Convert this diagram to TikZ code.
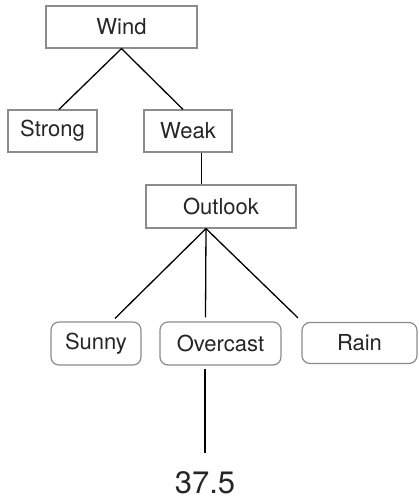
\documentclass[tikz,border=0pt]{standalone}
\usepackage{fontspec}
\setmainfont{TeX Gyre Heros}
\usepackage{tikz}
\usetikzlibrary{calc, positioning}

\begin{document}
\begin{tikzpicture}[x=1pt, y=-1pt]
    % Define styles
    \tikzstyle{attr_box}=[draw=black!45, line width=1.2pt, fill=white, text=black!85, inner sep=0pt, font=\fontsize{22}{26}\selectfont]
    \tikzstyle{value_box}=[attr_box, rounded corners=8pt]
    \tikzstyle{branch}=[line width=1.3pt, color=black]
    \tikzstyle{leaf_text}=[text=black!85, inner sep=0pt, font=\fontsize{31}{36}\selectfont]

    \useasboundingbox (0,0) rectangle (418,498);

    % --- 1. Root split on Wind ---
    \node[attr_box, minimum width=151pt, minimum height=42pt] (wind) at (121.5, 27) {Wind};
    \node[attr_box, minimum width=89pt, minimum height=42pt] (strong) at (52.5, 131) {Strong};
    \node[attr_box, minimum width=88pt, minimum height=42pt] (weak) at (188, 131) {Weak};

    % --- 2. Second split on Outlook ---
    \node[attr_box, minimum width=150pt, minimum height=43pt] (outlook) at (221, 206.5) {Outlook};

    % Values of Outlook
    \node[value_box, minimum width=90pt, minimum height=43pt] (sunny) at (96, 343.5) {Sunny};
    \node[value_box, minimum width=121pt, minimum height=43pt] (overcast) at (220.5, 343.5) {Overcast};
    \node[value_box, minimum width=115pt, minimum height=41pt] (rain) at (359.5, 343) {Rain};

    % --- 3. Leaf value ---
    \node[leaf_text] (result) at (205, 482.5) {37.5};

    % --- 4. Branches ---
    \draw[branch] (wind.south) -- ([xshift=6.5pt]strong.north);
    \draw[branch] (wind.south) -- ([xshift=-5pt]weak.north);
    \draw[branch] ([xshift=13.5pt]weak.south) -- ([xshift=-19.5pt]outlook.north);

    \draw[branch] ([xshift=-15pt]outlook.south) -- ([xshift=19pt, yshift=3pt]sunny.north);
    \draw[branch] ([xshift=-15pt]outlook.south) -- ([xshift=-15pt, yshift=4pt]overcast.north);
    \draw[branch] ([xshift=-15pt]outlook.south) -- ([xshift=-61.5pt, yshift=4pt]rain.north);

    \draw[branch] ([xshift=-15.5pt, yshift=-3pt]overcast.south) -- ([yshift=29.5pt]result.center);

\end{tikzpicture}
\end{document}
